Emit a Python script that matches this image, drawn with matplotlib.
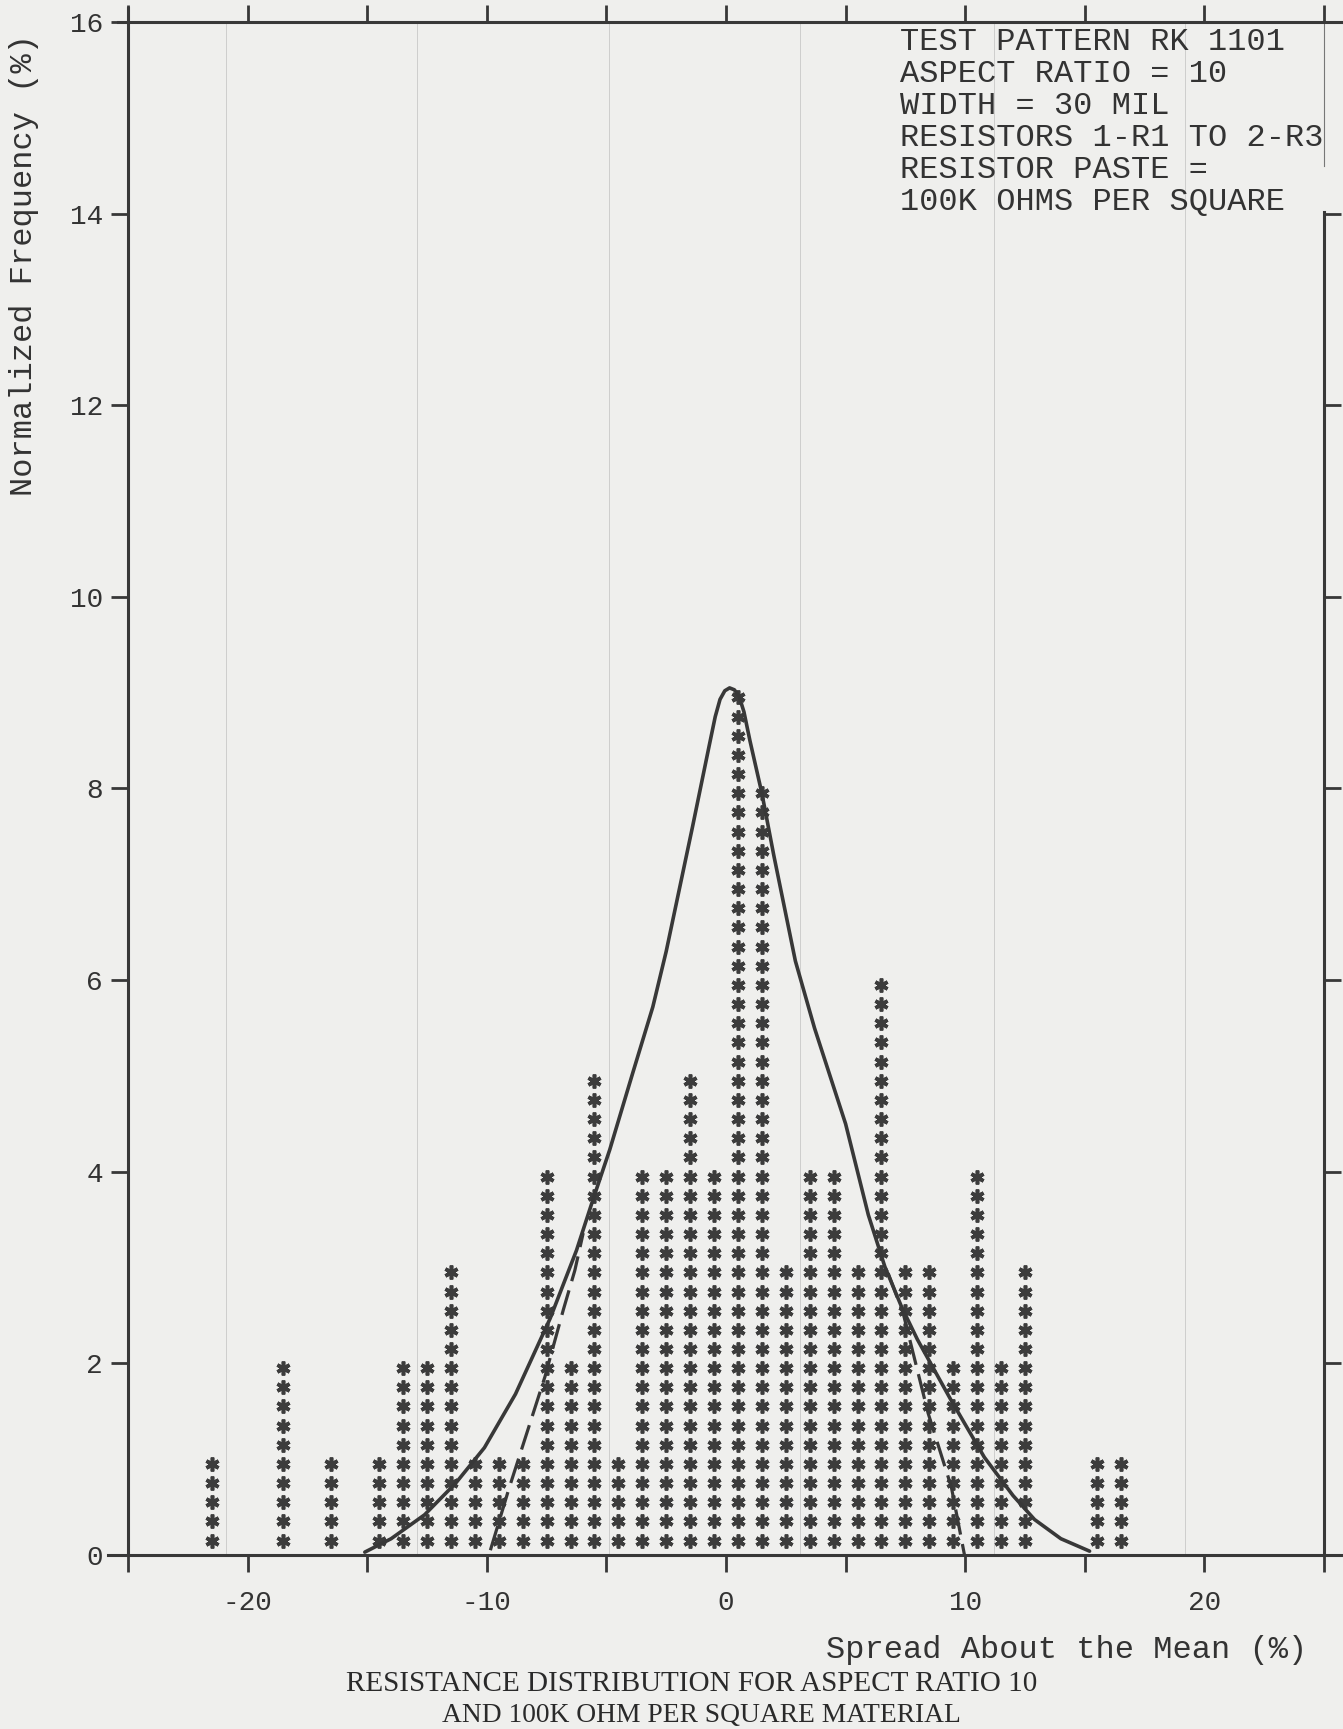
import matplotlib.pyplot as plt
import numpy as np

# Histograma (colunas de asteriscos), cada asterisco = 0.2 %
bin_centers = [-21.5, -18.5, -16.5, -14.5, -13.5, -12.5, -11.5, -10.5, -9.5, -8.5,
               -7.5, -6.5, -5.5, -4.5, -3.5, -2.5, -1.5, -0.5, 0.5, 1.5,
               2.5, 3.5, 4.5, 5.5, 6.5, 7.5, 8.5, 9.5, 10.5, 11.5,
               12.5, 15.5, 16.5]
bin_heights = [1, 2, 1, 1, 2, 2, 3, 1, 1, 1,
               4, 2, 5, 1, 4, 4, 5, 4, 9, 8,
               3, 4, 4, 3, 6, 3, 3, 2, 4, 2,
               3, 1, 1]
star_step = 0.2

# Curva continua
solid_x = [-15.1, -14.0, -12.6, -11.3, -10.1, -8.8, -7.35, -6.25, -5.56, -4.86,
           -3.9, -3.06, -2.5, -1.4, -0.7, -0.45, -0.25, -0.05, 0.15, 0.35,
           0.55, 0.75, 1.0, 1.5, 2.0, 2.9, 3.7, 5.0, 5.95, 6.64,
           7.34, 8.0, 9.4, 10.8, 12.0, 12.9, 14.0, 15.2]
solid_y = [0.03, 0.17, 0.42, 0.75, 1.12, 1.68, 2.47, 3.18, 3.71, 4.23,
           5.03, 5.72, 6.3, 7.6, 8.45, 8.75, 8.93, 9.02, 9.05, 9.03,
           8.96, 8.8, 8.5, 7.95, 7.3, 6.2, 5.5, 4.5, 3.55, 3.01,
           2.59, 2.25, 1.62, 1.02, 0.62, 0.37, 0.17, 0.04]

# Curva tracejada (ramos esquerdo e direito)
dash_left_x = [-9.85, -9.09, -8.33, -7.57, -6.8, -6.32, -5.97]
dash_left_y = [0.05, 0.68, 1.27, 1.86, 2.56, 2.97, 3.36]
dash_right_x = [6.78, 7.41, 8.45, 9.42, 9.97]
dash_right_y = [2.94, 2.52, 1.48, 0.71, 0.0]

x_ticks = [-25, -20, -15, -10, -5, 0, 5, 10, 15, 20, 25]
x_ticklabels = ['', '-20', '', '-10', '', '0', '', '10', '', '20', '']
y_ticks = [0, 2, 4, 6, 8, 10, 12, 14, 16]
right_ticks = [2, 4, 6, 8, 10, 12, 14]
paper_rules = [-20.9, -12.9, -4.9, 3.1, 11.2, 19.2]

info_lines = ["TEST PATTERN RK 1101", "ASPECT RATIO = 10", "WIDTH = 30 MIL",
              "RESISTORS 1-R1 TO 2-R3", "RESISTOR PASTE =", "100K OHMS PER SQUARE"]

paper = '#efefed'
ink = '#383838'
mono = 'Liberation Mono'

W, H = 1343, 1729
fig = plt.figure(figsize=(W / 100, H / 100), dpi=100, facecolor=paper)
ax = fig.add_axes([128 / W, 1 - 1555 / H, 1196 / W, 1533 / H], facecolor=paper)
ax.set_xlim(-25, 25)
ax.set_ylim(0, 16)

# linhas do papel
for xr in paper_rules:
    ax.axvline(xr, color='#cdcdcd', lw=0.7, zorder=0)

# asteriscos
sx, sy = [], []
for c, h in zip(bin_centers, bin_heights):
    n = int(round(h / star_step))
    k = np.arange(1, n + 1)
    sx.extend([c] * n)
    sy.extend(list(k * star_step - 0.05))
ax.plot(sx, sy, ls='', marker=(6, 2, 0), ms=10, mew=2.6, color='#3c3c3c', zorder=2)

ax.plot(solid_x, solid_y, color=ink, lw=2.6, zorder=3, solid_capstyle='round',
        solid_joinstyle='round')
ld, = ax.plot(dash_left_x, dash_left_y, color=ink, lw=2.3, zorder=3)
rd, = ax.plot(dash_right_x, dash_right_y, color=ink, lw=2.3, zorder=3)
ld.set_dashes((8, 3))
rd.set_dashes((8, 3))

# moldura desenhada a mao
for s in ax.spines.values():
    s.set_visible(False)
fk = dict(color=ink, lw=2.2, transform=ax.transAxes, clip_on=False, zorder=4)
ax.plot([-0.017, 1.016], [0, 0], **fk)
ax.plot([-0.008, 1.016], [1, 1], **fk)
ax.plot([0, 0], [0, 1.009], **fk)
ax.plot([1, 1], [0, 14.02 / 16], **fk)
ax.plot([1, 1], [14.5 / 16, 1], color='#777777', lw=0.8, transform=ax.transAxes,
        clip_on=False)
ax.plot([25] * len(right_ticks), right_ticks, ls='', marker=1, ms=12, mew=2,
        color=ink, clip_on=False)

ax.set_xticks(x_ticks)
ax.set_xticklabels(x_ticklabels)
ax.set_yticks(y_ticks)
ax.tick_params(direction='out', length=12, width=2, color=ink, top=True,
               right=False, labelsize=20, labelcolor='#333333')
ax.tick_params(axis='x', pad=13)
ax.tick_params(axis='y', pad=6)
for lab in ax.get_xticklabels() + ax.get_yticklabels():
    lab.set_family(mono)

# textos
for i, line in enumerate(info_lines):
    fig.text(900 / W, 1 - (42 + 32 * i) / H, line, family=mono, fontsize=23,
             color='#333333', va='center', ha='left')

fig.text(24 / W, 1 - 265 / H, "Normalized Frequency (%)", family=mono, fontsize=23,
         rotation=90, color='#333333', va='center', ha='center')
fig.text(1307 / W, 1 - 1650 / H, "Spread About the Mean (%)", family=mono, fontsize=23,
         color='#333333', va='center', ha='right')
fig.text(692 / W, 1 - 1684 / H, "RESISTANCE DISTRIBUTION FOR ASPECT RATIO 10",
         family='Liberation Serif', fontsize=21, color='#2a2a2a', va='center', ha='center')
fig.text(701 / W, 1 - 1715 / H, "AND 100K OHM PER SQUARE MATERIAL",
         family='Liberation Serif', fontsize=19.8, color='#2a2a2a', va='center', ha='center')

fig.savefig('out.png', dpi=100, facecolor=paper)
